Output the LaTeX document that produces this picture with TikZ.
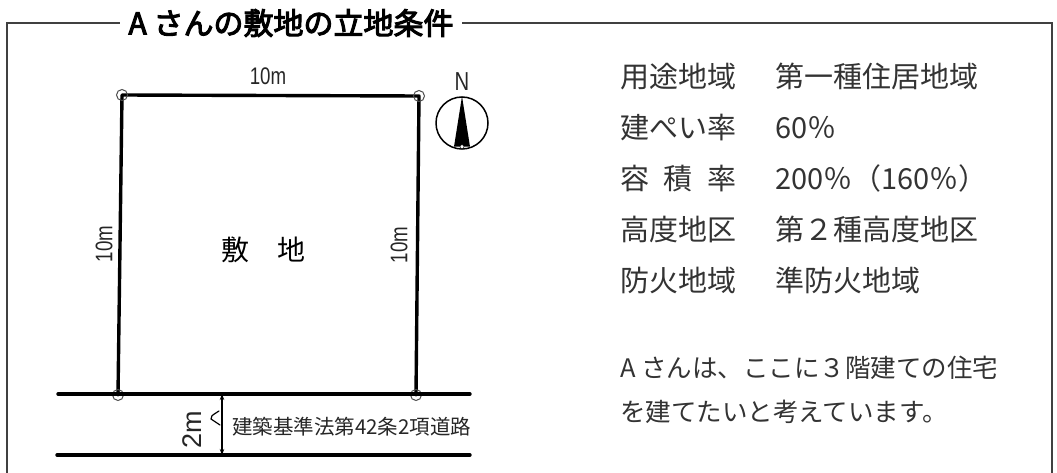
\documentclass[tikz,border=0pt]{standalone}
\usepackage{fontspec}
\setmainfont{Noto Sans CJK JP}
\newfontfamily\titlefont{Noto Sans CJK JP}[FakeBold=3.5]
\newfontfamily\narrowfont{Liberation Sans}[FakeStretch=0.78]
\newfontfamily\plainfont{Liberation Sans}
\usetikzlibrary{arrows.meta}

\tikzset{
  frame/.style={draw=black!75, line width=1.4pt},
  plotline/.style={line width=3.4pt, line cap=round, line join=round},
  pin/.style={circle, draw=black!70, line width=1pt, minimum size=11pt, inner sep=0pt},
  dimlabel/.style={font=\narrowfont\fontsize{24}{24}\selectfont, inner sep=0pt, text=black!85},
  item/.style={anchor=west, inner sep=0pt, text height=25pt, text depth=4pt,
    text=black!80, font=\fontsize{29}{35}\selectfont}
}

\begin{document}
\begin{tikzpicture}[x=1pt,y=-1pt]
      \useasboundingbox (0,0) rectangle (1057,473);

      % frame with title
      \draw[frame] (7,473) -- (7,23) -- (1052,23) -- (1052,473);
      \node[fill=white, inner xsep=9pt, inner ysep=2pt,
        font=\titlefont\fontsize{30}{30}\selectfont] (title) at (291,23) {A さんの敷地の立地条件};

      % site
      \coordinate (nw) at (122,95);
      \coordinate (ne) at (419,96);
      \coordinate (se) at (416,395);
      \coordinate (sw) at (118,395);
      \draw[plotline] (sw) -- (nw) -- (ne) -- (se);
      \foreach \c in {nw,ne,se,sw}
      \node[pin] at (\c) {};

      % road
      \coordinate (road-nw) at (58,394);
      \coordinate (road-ne) at (470,394);
      \coordinate (road-sw) at (57,455);
      \coordinate (road-se) at (470,455);
      \draw[plotline] (road-nw) -- (road-ne);
      \draw[plotline] (road-sw) -- (road-se);

      \coordinate (dim-top) at (222,394);
      \coordinate (dim-bot) at (222,455);
      \draw[{Stealth[length=6pt,width=4.5pt]}-{Stealth[length=6pt,width=4.5pt]}, line width=1.1pt] (dim-top) -- (dim-bot);
      \node[rotate=90, inner sep=0pt, text=black!85, font=\plainfont\fontsize{27}{27}\selectfont] (road-width) at (192,430) {2m};
      \draw[line width=1.2pt, line cap=round] (219,411) .. controls (211,416) .. (211,419) -- (220,425);
      \node[anchor=west, inner sep=0pt, text=black!85, font=\fontsize{20.5}{24}\selectfont] (road-name) at (232,427) {建築基準法第42条2項道路};

      % labels
      \node[font=\fontsize{28}{30}\selectfont] (site) at (263,250) {敷\hspace{1em}地};
      \node[dimlabel] (top-len) at (268,76) {10m};
      \node[dimlabel, rotate=90] (left-len) at (104,244) {10m};
      \node[dimlabel, rotate=90] (right-len) at (399,245) {10m};

      % north
      \node[dimlabel, font=\narrowfont\fontsize{26}{26}\selectfont] (north) at (462,82) {N};
      \node[circle, draw, line width=1.5pt, minimum size=52pt, inner sep=0pt] (compass) at (462,123) {};
      \fill (compass.north) -- ([shift={(8,-3)}]compass.south) -- ([shift={(-8,-3)}]compass.south) -- cycle;
      \filldraw[fill=white, line width=0.5pt] ([shift={(0,-3)}]compass.south) circle[radius=2];

      % conditions
      \foreach \y/\key/\val [count=\i] in {77/用途地域/第一種住居地域, 128/建ぺい率/60％,
        179/{容\hspace{0.5em}積\hspace{0.5em}率}/200％（160％）, 230/高度地区/第２種高度地区, 281/防火地域/準防火地域}
      {
      \node[item] (key\i) at (620,\y) {\key};
      \node[item] (val\i) at (775,\y) {\val};
      }

      \node[anchor=west, align=left, inner sep=0pt, text=black!80,
        font=\fontsize{25.5}{44}\selectfont] (note) at (620,390) {A さんは、ここに３階建ての住宅\\を建てたいと考えています。};
    \end{tikzpicture}
\end{document}
